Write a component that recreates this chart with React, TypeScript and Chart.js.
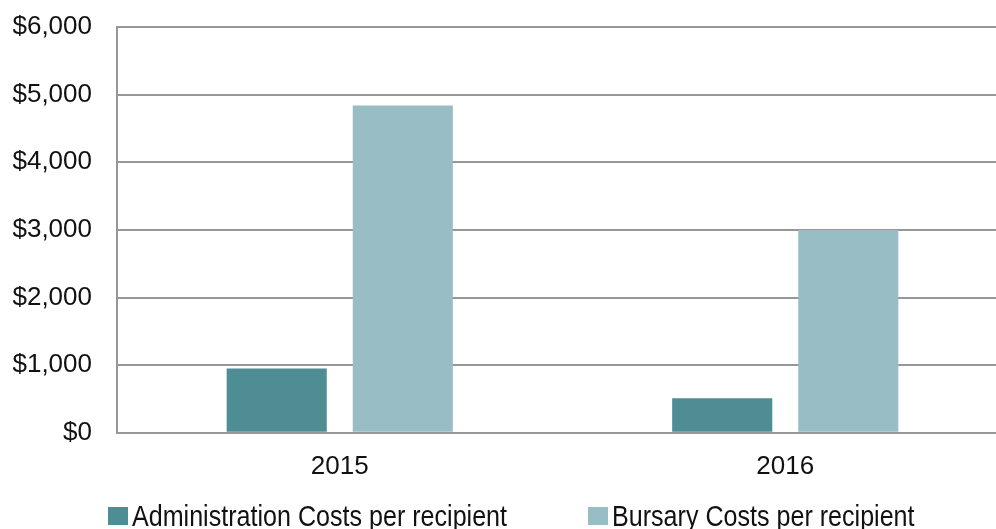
import React, { useEffect, useRef } from "react";
import { Chart, registerables } from "chart.js";

Chart.register(...registerables);

const categories = ["2015", "2016"];
const adminCosts = [950, 510];
const bursaryCosts = [4840, 3000];
const seriesNames = ["Administration Costs per recipient", "Bursary Costs per recipient"];
const seriesColors = ["#4F8D95", "#99BDC4"];
const yTicks = [0, 1000, 2000, 3000, 4000, 5000, 6000];

const FONT = "'Liberation Sans', Arial, Helvetica, sans-serif";
const GRID = "#979797";

const customLegend = {
  id: "customLegend",
  afterDraw(chart: any) {
    const ctx = chart.ctx;
    const starts = [108, 588];
    ctx.save();
    chart.data.datasets.forEach((ds: any, i: number) => {
      const x = starts[i];
      ctx.fillStyle = ds.backgroundColor;
      ctx.fillRect(x, 507, 20, 18);
      ctx.save();
      ctx.translate(x + 24, 526);
      ctx.scale(0.865, 1);
      ctx.font = `29px ${FONT}`;
      ctx.fillStyle = "#111111";
      ctx.textBaseline = "alphabetic";
      ctx.textAlign = "left";
      ctx.fillText(ds.label, 0, 0);
      ctx.restore();
    });
    ctx.restore();
  },
};

export default function App() {
  const ref = useRef<HTMLCanvasElement | null>(null);
  useEffect(() => {
    document.body.style.margin = "0";
    document.body.style.overflow = "hidden";
    const chart = new Chart(ref.current as HTMLCanvasElement, {
      type: "bar",
      data: {
        labels: categories,
        datasets: [
          {
            label: seriesNames[0],
            data: adminCosts,
            backgroundColor: seriesColors[0],
            categoryPercentage: 0.566,
            barPercentage: 0.794,
          },
          {
            label: seriesNames[1],
            data: bursaryCosts,
            backgroundColor: seriesColors[1],
            categoryPercentage: 0.566,
            barPercentage: 0.794,
          },
        ],
      },
      options: {
        responsive: false,
        animation: false,
        layout: { padding: { left: 13, top: 0, right: 0, bottom: 29 } },
        plugins: {
          legend: { display: false },
          tooltip: { enabled: false },
        },
        scales: {
          x: {
            grid: { display: false, drawTicks: false },
            border: { display: true, color: GRID, width: 2 },
            ticks: { color: "#111111", font: { family: FONT, size: 26 }, padding: 18 },
          },
          y: {
            min: 0,
            max: 6000,
            afterBuildTicks: (scale: any) => {
              scale.ticks = yTicks.map((v) => ({ value: v }));
            },
            afterFit: (scale: any) => {
              scale.width = 104;
              scale.paddingTop = 27;
              scale.paddingBottom = 0;
            },
            grid: { color: GRID, lineWidth: 2, drawTicks: false },
            border: { display: true, color: GRID, width: 2 },
            ticks: {
              color: "#111111",
              font: { family: FONT, size: 26 },
              padding: 25,
              callback: (v: any) => "$" + Number(v).toLocaleString("en-US"),
            },
          },
        },
      },
      plugins: [customLegend],
    });
    return () => chart.destroy();
  }, []);
  return (
    <div style={{ position: "fixed", left: 0, top: 0, width: 1008, height: 529, background: "#fff" }}>
      <canvas ref={ref} width={1008} height={529} style={{ display: "block" }} />
    </div>
  );
}
